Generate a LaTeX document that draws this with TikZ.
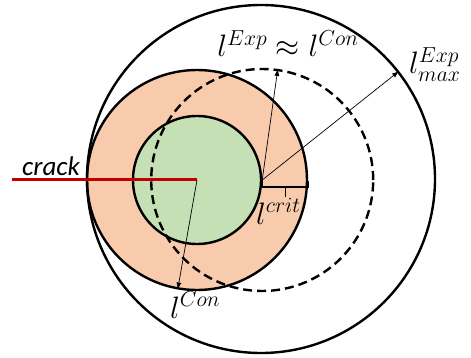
\RequirePackage{fix-cm}
\documentclass[tikz,border=0pt]{standalone}
\usepackage{fontspec}
\newfontfamily\crackfont{Carlito}
\usetikzlibrary{arrows.meta,calc}

\definecolor{ringfill}{HTML}{F8CBAD}
\definecolor{corefill}{HTML}{C5E0B4}
\definecolor{crackred}{HTML}{C00000}

\begin{document}
\begin{tikzpicture}[
  x=1pt, y=-1pt,
  zone/.style={draw, circle, line width=2.4pt, inner sep=0pt},
  reach/.style={zone, dash pattern=on 9pt off 5pt},
  radarrow/.style={-{Latex[length=7pt,width=5pt]}, line width=0.7pt},
  brace/.style={line width=1.3pt},
  crack/.style={crackred, line width=3pt},
  lbl/.style={font=\fontsize{31}{36}\selectfont, inner sep=0pt},
  cracklbl/.style={font=\crackfont\itshape\fontsize{27}{32}\selectfont, inner sep=0pt}
]
\useasboundingbox (0,0) rectangle (471,358);

\node[zone, fill=ringfill, minimum size=220pt] (ring) at (197,180) {};
\node[zone, fill=corefill, minimum size=128pt] (core) at (197,180) {};
\node[zone, minimum size=348pt] (limit) at (261,179) {};
\node[reach, minimum size=222pt] (front) at (core.east) {};

\coordinate (mouth) at (12,180);
\draw[crack] (mouth) -- (core.center);

\draw[radarrow] (core.center) -- (ring.260);
\draw[radarrow] (front.center) -- (front.82);
\draw[radarrow] (front.center) -- (limit.38);

\coordinate (bmid) at ($(core.east)!0.5!(ring.east)$);
\draw[brace] (core.east) |- ([yshift=-7pt]ring.east) -- ([yshift=-1pt]ring.east);
\draw[brace] ([yshift=-7pt]bmid) -- ([yshift=-17pt]bmid);

\node[cracklbl, anchor=base] (cracktxt) at (51,176) {crack};
\node[lbl, anchor=base] (lexp) at (288,57) {$l^{Exp}\approx l^{Con}$};
\node[lbl, anchor=base west] (lmax) at (409,74) {$l^{Exp}_{max}$};
\node[lbl, anchor=base west] (lcrit) at (256,224) {$l^{crit}$};
\node[lbl, anchor=base west] (lcon) at (170,318) {$l^{Con}$};
\end{tikzpicture}
\end{document}
